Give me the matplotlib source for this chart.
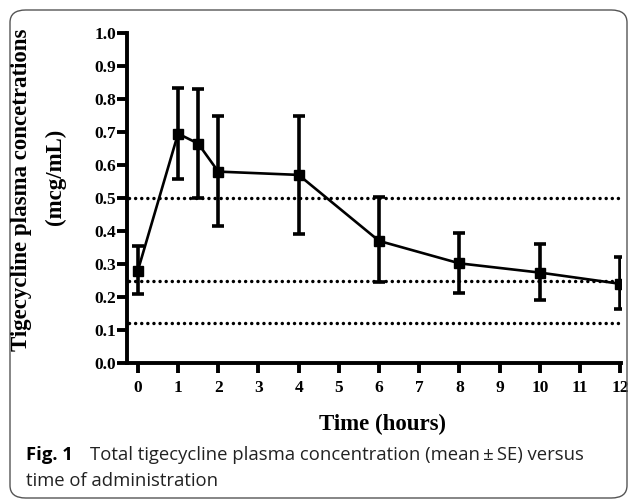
import matplotlib.pyplot as plt
from matplotlib.patches import FancyBboxPatch

# 时间点（小时）与血药浓度均值 / SE 上下界
hours = [0, 1, 1.5, 2, 4, 6, 8, 10, 12]
conc_mean = [0.28, 0.695, 0.665, 0.58, 0.57, 0.37, 0.302, 0.274, 0.24]
conc_upper = [0.355, 0.833, 0.83, 0.748, 0.748, 0.503, 0.395, 0.36, 0.322]
conc_lower = [0.21, 0.557, 0.50, 0.415, 0.39, 0.245, 0.213, 0.19, 0.163]
ref_levels = [0.5, 0.25, 0.12]

x_ticks = list(range(0, 13))
y_ticks = [0.0, 0.1, 0.2, 0.3, 0.4, 0.5, 0.6, 0.7, 0.8, 0.9, 1.0]

serif = ["Liberation Serif", "DejaVu Serif"]
sans = ["Open Sans", "DejaVu Sans"]

fig = plt.figure(figsize=(6.3, 5.0), dpi=100)

# 外框（圆角）
frame = FancyBboxPatch(
    (10 / 630, 2 / 500), 617 / 630, 488 / 500,
    boxstyle="round,pad=0,rounding_size=0.025",
    transform=fig.transFigure, facecolor="none",
    edgecolor="#555555", linewidth=1.0,
)
fig.patches.append(frame)

ax = fig.add_axes([127 / 630, 1 - 363 / 500, (621 - 127) / 630, 330 / 500])

x0, x1 = -0.27, 12.02
for lvl in ref_levels:
    ax.plot([x0 + 0.05, 12], [lvl, lvl], color="black", linewidth=2.5,
            linestyle=(0, (0.01, 1.75)), dash_capstyle="round")

err_low = [m - lo for m, lo in zip(conc_mean, conc_lower)]
err_high = [hi - m for m, hi in zip(conc_mean, conc_upper)]
ax.errorbar(hours, conc_mean, yerr=[err_low, err_high], color="black",
            linewidth=1.9, marker="s", markersize=7.5, elinewidth=2.6,
            capsize=4.5, capthick=2.6, zorder=3)

ax.set_xlim(x0, x1)
ax.set_ylim(0, 1.0)
ax.spines["top"].set_visible(False)
ax.spines["right"].set_visible(False)
for side in ["left", "bottom"]:
    ax.spines[side].set_linewidth(2.8)

ax.set_xticks(x_ticks)
ax.set_yticks(y_ticks)
ax.set_xticklabels([str(t) for t in x_ticks], family=serif,
                   fontweight="bold", fontsize=12.5)
ax.set_yticklabels([f"{v:.1f}" for v in y_ticks], family=serif,
                   fontweight="bold", fontsize=12.5)
ax.tick_params(axis="y", length=7, width=2.8, pad=1)
ax.tick_params(axis="x", length=7, width=2.8, pad=5)

ax.set_xlabel("Time (hours)", family=serif, fontweight="bold", fontsize=16.5)
ax.xaxis.set_label_coords(0.518, -0.155)

# 纵轴标题两行分开放，方便对位
fig.text(22 / 630, 1 - 190 / 500, "Tigecycline plasma concetrations",
         family=serif, fontweight="bold", fontsize=16.5, rotation=90,
         ha="center", va="center")
fig.text(55 / 630, 1 - 177 / 500, "(mcg/mL)",
         family=serif, fontweight="bold", fontsize=16.5, rotation=90,
         ha="center", va="center")

# 图注
fig.text(26 / 630, 1 - 455 / 500, "Fig. 1", family=sans,
         fontweight="bold", fontsize=13.3, va="center")
fig.text(90 / 630, 1 - 455 / 500,
         "Total tigecycline plasma concentration (mean\u2009\u00b1\u2009SE) versus",
         family=sans, fontsize=13.3, va="center", color="#222222")
fig.text(26 / 630, 1 - 481 / 500, "time of administration",
         family=sans, fontsize=13.3, va="center", color="#222222")

fig.savefig("out.png", dpi=100)
